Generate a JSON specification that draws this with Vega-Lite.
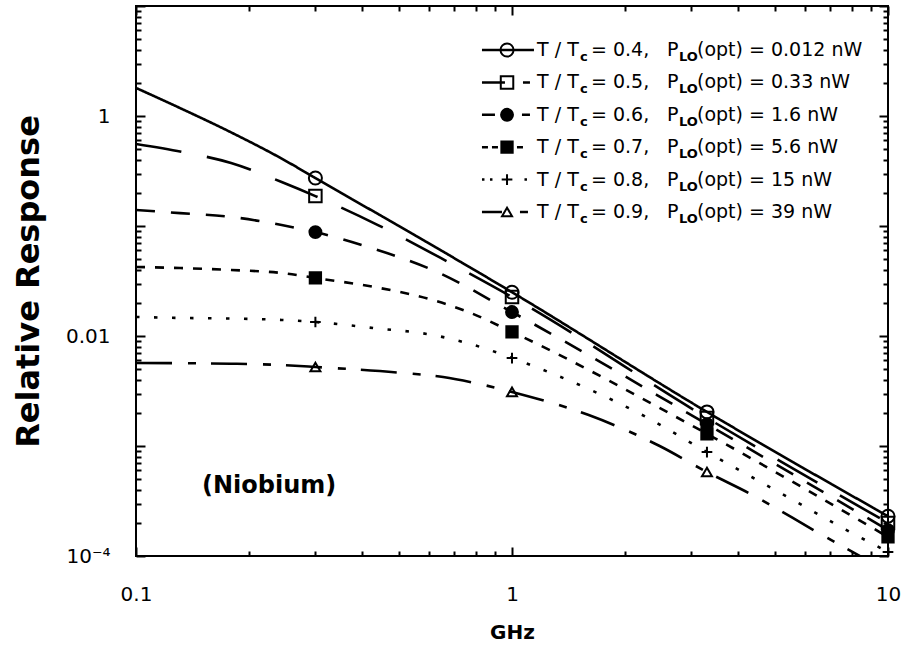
{
  "$schema": "https://vega.github.io/schema/vega-lite/v6.json",
  "width": 752,
  "height": 550,
  "autosize": {"type": "none"},
  "padding": {"left": 136, "top": 6, "right": 13, "bottom": 89},
  "background": "white",
  "config": {
    "view": {"stroke": "black", "strokeWidth": 2},
    "axis": {"labelFont": "DejaVu Sans", "titleFont": "DejaVu Sans", "labelColor": "black", "titleColor": "black", "tickColor": "black", "tickWidth": 2, "domain": false, "grid": false},
    "text": {"font": "DejaVu Sans", "color": "black"}
  },
  "datasets": {
    "curves": [
      {"series": "0.4", "f": 0.1, "r": 1.8}, {"series": "0.4", "f": 0.131, "r": 1.18}, {"series": "0.4", "f": 0.179, "r": 0.71}, {"series": "0.4", "f": 0.244, "r": 0.41}, {"series": "0.4", "f": 0.3, "r": 0.273}, {"series": "0.4", "f": 1, "r": 0.025}, {"series": "0.4", "f": 3.3, "r": 0.00204}, {"series": "0.4", "f": 10, "r": 0.00023},
      {"series": "0.5", "f": 0.1, "r": 0.557}, {"series": "0.5", "f": 0.133, "r": 0.471}, {"series": "0.5", "f": 0.179, "r": 0.374}, {"series": "0.5", "f": 0.244, "r": 0.251}, {"series": "0.5", "f": 0.3, "r": 0.187}, {"series": "0.5", "f": 0.44, "r": 0.102}, {"series": "0.5", "f": 0.685, "r": 0.046}, {"series": "0.5", "f": 1, "r": 0.0226}, {"series": "0.5", "f": 3.3, "r": 0.0018}, {"series": "0.5", "f": 10, "r": 0.0002},
      {"series": "0.6", "f": 0.1, "r": 0.14}, {"series": "0.6", "f": 0.131, "r": 0.131}, {"series": "0.6", "f": 0.179, "r": 0.121}, {"series": "0.6", "f": 0.244, "r": 0.102}, {"series": "0.6", "f": 0.3, "r": 0.088}, {"series": "0.6", "f": 0.406, "r": 0.0658}, {"series": "0.6", "f": 0.632, "r": 0.0382}, {"series": "0.6", "f": 1, "r": 0.0165}, {"series": "0.6", "f": 3.3, "r": 0.00158}, {"series": "0.6", "f": 10, "r": 0.000172},
      {"series": "0.7", "f": 0.1, "r": 0.0424}, {"series": "0.7", "f": 0.131, "r": 0.0415}, {"series": "0.7", "f": 0.179, "r": 0.0398}, {"series": "0.7", "f": 0.244, "r": 0.0374}, {"series": "0.7", "f": 0.3, "r": 0.0337}, {"series": "0.7", "f": 0.43, "r": 0.0279}, {"series": "0.7", "f": 0.617, "r": 0.0212}, {"series": "0.7", "f": 0.766, "r": 0.0165}, {"series": "0.7", "f": 1, "r": 0.0109}, {"series": "0.7", "f": 3.3, "r": 0.00129}, {"series": "0.7", "f": 10, "r": 0.000149},
      {"series": "0.8", "f": 0.1, "r": 0.0149}, {"series": "0.8", "f": 0.131, "r": 0.0146}, {"series": "0.8", "f": 0.179, "r": 0.0144}, {"series": "0.8", "f": 0.244, "r": 0.014}, {"series": "0.8", "f": 0.3, "r": 0.0134}, {"series": "0.8", "f": 0.43, "r": 0.0118}, {"series": "0.8", "f": 0.617, "r": 0.0102}, {"series": "0.8", "f": 0.84, "r": 0.00778}, {"series": "0.8", "f": 1, "r": 0.0063}, {"series": "0.8", "f": 1.62, "r": 0.00323}, {"series": "0.8", "f": 2.25, "r": 0.00187}, {"series": "0.8", "f": 3.3, "r": 0.00088}, {"series": "0.8", "f": 5.36, "r": 0.00035}, {"series": "0.8", "f": 7.57, "r": 0.00018}, {"series": "0.8", "f": 10, "r": 0.000109},
      {"series": "0.9", "f": 0.1, "r": 0.00569}, {"series": "0.9", "f": 0.131, "r": 0.00566}, {"series": "0.9", "f": 0.179, "r": 0.0056}, {"series": "0.9", "f": 0.244, "r": 0.00545}, {"series": "0.9", "f": 0.3, "r": 0.00523}, {"series": "0.9", "f": 0.513, "r": 0.00461}, {"series": "0.9", "f": 0.656, "r": 0.00424}, {"series": "0.9", "f": 0.82, "r": 0.00366}, {"series": "0.9", "f": 1, "r": 0.0031}, {"series": "0.9", "f": 1.6, "r": 0.00191}, {"series": "0.9", "f": 2.47, "r": 0.001}, {"series": "0.9", "f": 3.3, "r": 0.00058}, {"series": "0.9", "f": 4.26, "r": 0.000374}, {"series": "0.9", "f": 6.54, "r": 0.000162}, {"series": "0.9", "f": 10, "r": 0.000072}
    ],
    "markers": [
      {"series": "0.4", "f": 0.3, "r": 0.273}, {"series": "0.4", "f": 1, "r": 0.025}, {"series": "0.4", "f": 3.3, "r": 0.00204}, {"series": "0.4", "f": 10, "r": 0.00023},
      {"series": "0.5", "f": 0.3, "r": 0.187}, {"series": "0.5", "f": 1, "r": 0.0226}, {"series": "0.5", "f": 3.3, "r": 0.0018}, {"series": "0.5", "f": 10, "r": 0.0002},
      {"series": "0.6", "f": 0.3, "r": 0.088}, {"series": "0.6", "f": 1, "r": 0.0165}, {"series": "0.6", "f": 3.3, "r": 0.00158}, {"series": "0.6", "f": 10, "r": 0.000172},
      {"series": "0.7", "f": 0.3, "r": 0.0337}, {"series": "0.7", "f": 1, "r": 0.0109}, {"series": "0.7", "f": 3.3, "r": 0.00129}, {"series": "0.7", "f": 10, "r": 0.000149},
      {"series": "0.8", "f": 0.3, "r": 0.0134}, {"series": "0.8", "f": 1, "r": 0.0063}, {"series": "0.8", "f": 3.3, "r": 0.00088}, {"series": "0.8", "f": 10, "r": 0.000109},
      {"series": "0.9", "f": 0.3, "r": 0.00523}, {"series": "0.9", "f": 1, "r": 0.0031}, {"series": "0.9", "f": 3.3, "r": 0.00058}
    ],
    "legend": [
      {"series": "0.4", "tl": "= 0.4,", "pl": "(opt) = 0.012 nW"},
      {"series": "0.5", "tl": "= 0.5,", "pl": "(opt) = 0.33 nW"},
      {"series": "0.6", "tl": "= 0.6,", "pl": "(opt) = 1.6 nW"},
      {"series": "0.7", "tl": "= 0.7,", "pl": "(opt) = 5.6 nW"},
      {"series": "0.8", "tl": "= 0.8,", "pl": "(opt) = 15 nW"},
      {"series": "0.9", "tl": "= 0.9,", "pl": "(opt) = 39 nW"}
    ]
  },
  "layer": [
    {
      "layer": [
        {
          "data": {"name": "curves"},
          "mark": {"type": "line", "color": "black", "strokeWidth": 2.6, "clip": true, "interpolate": "monotone"},
          "encoding": {
            "x": {"field": "f", "type": "quantitative", "scale": {"type": "log", "domain": [0.1, 10], "nice": false},
              "axis": {"orient": "bottom", "values": [0.1, 1, 10], "format": "~g", "ticks": false, "labelPadding": 28, "labelFontSize": 20, "labelFlush": false, "labelOverlap": false, "title": "GHz", "titleFontSize": 20, "titleFontWeight": "bold", "titlePadding": 18}},
            "y": {"field": "r", "type": "quantitative", "scale": {"type": "log", "domain": [0.0001, 10], "nice": false},
              "axis": {"orient": "left", "values": [0.0001, 0.01, 1], "labelExpr": "datum.value < 0.001 ? '10⁻⁴' : (datum.value < 0.1 ? '0.01' : '1')", "ticks": false, "labelPadding": 26, "labelFontSize": 20, "labelFlush": false, "labelOverlap": false, "labelBaseline": "middle", "title": "Relative  Response", "titleFontSize": 32, "titleFontWeight": "bold", "titlePadding": 20}},
            "strokeDash": {"field": "series", "type": "nominal", "legend": null,
              "scale": {"domain": ["0.4", "0.5", "0.6", "0.7", "0.8", "0.9"], "range": [[1, 0], [46, 26], [19, 16], [9, 10], [3.5, 14.5], [36, 16, 8, 15]]}}
          }
        },
        {
          "data": {"name": "markers"},
          "mark": {"type": "point", "filled": true, "stroke": "black", "strokeWidth": 2, "opacity": 1},
          "encoding": {
            "x": {"field": "f", "type": "quantitative", "scale": {"type": "log", "domain": [0.1, 10], "nice": false},
              "axis": {"orient": "bottom", "values": [0.1, 1, 10], "labels": false, "tickSize": -9, "title": null}},
            "y": {"field": "r", "type": "quantitative", "scale": {"type": "log", "domain": [0.0001, 10], "nice": false},
              "axis": {"orient": "left", "values": [0.0001, 0.001, 0.01, 0.1, 1, 10], "labels": false, "tickSize": -9, "title": null}},
            "shape": {"field": "series", "type": "nominal", "legend": null,
              "scale": {"domain": ["0.4", "0.5", "0.6", "0.7", "0.8", "0.9"], "range": ["circle", "square", "circle", "square", "M-1,0H1M0,-1V1", "triangle-up"]}},
            "fill": {"field": "series", "type": "nominal", "legend": null,
              "scale": {"domain": ["0.4", "0.5", "0.6", "0.7", "0.8", "0.9"], "range": ["transparent", "transparent", "black", "black", "transparent", "transparent"]}},
            "size": {"field": "series", "type": "nominal", "legend": null,
              "scale": {"domain": ["0.4", "0.5", "0.6", "0.7", "0.8", "0.9"], "range": [170, 100, 130, 100, 121, 110]}}
          }
        },
        {
          "data": {"name": "markers"},
          "mark": {"type": "point", "opacity": 0},
          "encoding": {
            "x": {"field": "f", "type": "quantitative", "scale": {"type": "log", "domain": [0.1, 10], "nice": false},
              "axis": {"orient": "bottom", "values": [0.2, 0.3, 0.4, 0.5, 0.6, 0.7, 0.8, 0.9, 2, 3, 4, 5, 6, 7, 8, 9], "labels": false, "tickSize": -5, "title": null}},
            "y": {"field": "r", "type": "quantitative", "scale": {"type": "log", "domain": [0.0001, 10], "nice": false},
              "axis": {"orient": "left", "values": [0.0002, 0.0003, 0.0004, 0.0005, 0.0006, 0.0007, 0.0008, 0.0009, 0.002, 0.003, 0.004, 0.005, 0.006, 0.007, 0.008, 0.009, 0.02, 0.03, 0.04, 0.05, 0.06, 0.07, 0.08, 0.09, 0.2, 0.3, 0.4, 0.5, 0.6, 0.7, 0.8, 0.9, 2, 3, 4, 5, 6, 7, 8, 9], "labels": false, "tickSize": -5, "title": null}}
          }
        },
        {
          "data": {"name": "markers"},
          "mark": {"type": "point", "opacity": 0},
          "encoding": {
            "x": {"field": "f", "type": "quantitative", "scale": {"type": "log", "domain": [0.1, 10], "nice": false},
              "axis": {"orient": "top", "values": [0.1, 1, 10], "labels": false, "tickSize": -9, "title": null}},
            "y": {"field": "r", "type": "quantitative", "scale": {"type": "log", "domain": [0.0001, 10], "nice": false},
              "axis": {"orient": "right", "values": [0.0001, 0.001, 0.01, 0.1, 1, 10], "labels": false, "tickSize": -9, "title": null}}
          }
        },
        {
          "data": {"name": "markers"},
          "mark": {"type": "point", "opacity": 0},
          "encoding": {
            "x": {"field": "f", "type": "quantitative", "scale": {"type": "log", "domain": [0.1, 10], "nice": false},
              "axis": {"orient": "top", "values": [0.2, 0.3, 0.4, 0.5, 0.6, 0.7, 0.8, 0.9, 2, 3, 4, 5, 6, 7, 8, 9], "labels": false, "tickSize": -5, "title": null}},
            "y": {"field": "r", "type": "quantitative", "scale": {"type": "log", "domain": [0.0001, 10], "nice": false},
              "axis": {"orient": "right", "values": [0.0002, 0.0003, 0.0004, 0.0005, 0.0006, 0.0007, 0.0008, 0.0009, 0.002, 0.003, 0.004, 0.005, 0.006, 0.007, 0.008, 0.009, 0.02, 0.03, 0.04, 0.05, 0.06, 0.07, 0.08, 0.09, 0.2, 0.3, 0.4, 0.5, 0.6, 0.7, 0.8, 0.9, 2, 3, 4, 5, 6, 7, 8, 9], "labels": false, "tickSize": -5, "title": null}}
          }
        },
        {
          "data": {"values": [{"label": "(Niobium)"}]},
          "mark": {"type": "text", "fontSize": 24, "fontWeight": "bold", "align": "center", "baseline": "middle"},
          "encoding": {
            "x": {"datum": 0.226, "type": "quantitative", "axis": null},
            "y": {"datum": 0.00043, "type": "quantitative", "axis": null},
            "text": {"field": "label"}
          }
        }
      ],
      "resolve": {"axis": {"x": "independent", "y": "independent"}}
    },
    {
      "data": {"name": "legend"},
      "encoding": {
        "y": {"field": "series", "type": "ordinal", "axis": null,
          "scale": {"type": "point", "domain": ["0.4", "0.5", "0.6", "0.7", "0.8", "0.9"], "range": [44, 206], "padding": 0}}
      },
      "layer": [
        {
          "mark": {"type": "rule", "color": "black", "strokeWidth": 2.5},
          "encoding": {
            "x": {"datum": 0.832, "type": "quantitative", "axis": null},
            "x2": {"datum": 1.144},
            "strokeDash": {"field": "series", "type": "nominal", "legend": null,
              "scale": {"domain": ["0.4", "0.5", "0.6", "0.7", "0.8", "0.9"], "range": [[1, 0], [23, 18, 7, 100], [13, 27, 8, 100], [6, 4, 6, 19, 6, 100], [2.5, 5.5, 2.5, 32, 2.5, 100], [20, 18, 8, 100]]}}
          }
        },
        {
          "mark": {"type": "point", "filled": true, "stroke": "black", "strokeWidth": 2, "opacity": 1},
          "encoding": {
            "x": {"datum": 0.97, "type": "quantitative", "axis": null},
            "shape": {"field": "series", "type": "nominal", "legend": null},
            "fill": {"field": "series", "type": "nominal", "legend": null},
            "size": {"field": "series", "type": "nominal", "legend": null}
          }
        },
        {
          "mark": {"type": "text", "text": "T / T", "fontSize": 19, "align": "left", "baseline": "middle"},
          "encoding": {"x": {"datum": 1.166, "type": "quantitative", "axis": null}}
        },
        {
          "mark": {"type": "text", "text": "c", "fontSize": 13, "fontWeight": "bold", "align": "left", "baseline": "middle", "dy": 7},
          "encoding": {"x": {"datum": 1.516, "type": "quantitative", "axis": null}}
        },
        {
          "mark": {"type": "text", "fontSize": 19, "align": "left", "baseline": "middle"},
          "encoding": {"x": {"datum": 1.622, "type": "quantitative", "axis": null}, "text": {"field": "tl"}}
        },
        {
          "mark": {"type": "text", "text": "P", "fontSize": 19, "align": "left", "baseline": "middle"},
          "encoding": {"x": {"datum": 2.584, "type": "quantitative", "axis": null}}
        },
        {
          "mark": {"type": "text", "text": "LO", "fontSize": 13, "fontWeight": "bold", "align": "left", "baseline": "middle", "dy": 7},
          "encoding": {"x": {"datum": 2.781, "type": "quantitative", "axis": null}}
        },
        {
          "mark": {"type": "text", "fontSize": 19, "align": "left", "baseline": "middle"},
          "encoding": {"x": {"datum": 3.105, "type": "quantitative", "axis": null}, "text": {"field": "pl"}}
        }
      ]
    }
  ],
  "resolve": {"scale": {"y": "independent", "strokeDash": "independent"}, "axis": {"x": "independent", "y": "independent"}}
}
